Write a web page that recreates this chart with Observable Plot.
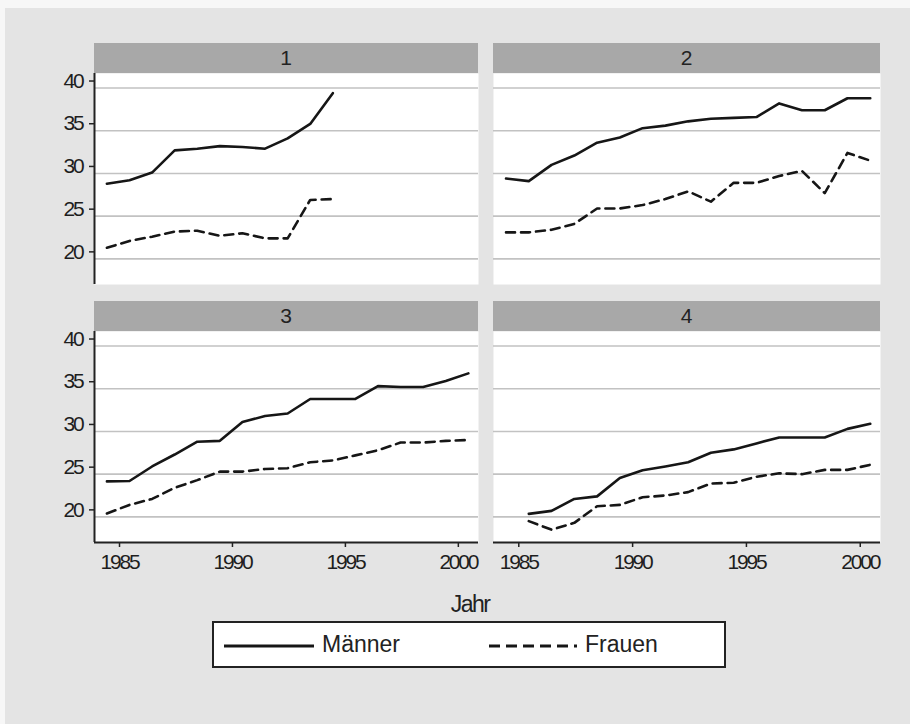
<!DOCTYPE html>
<html>
<head>
<meta charset="utf-8">
<script src="https://cdn.jsdelivr.net/npm/d3@7"></script>
<script src="https://cdn.jsdelivr.net/npm/@observablehq/plot@0.6"></script>
<style>
  html, body { margin: 0; padding: 0; background: #f7f7f7; width: 910px; height: 724px; overflow: hidden; }
  #bg { position: absolute; left: 5px; top: 8px; width: 905px; height: 716px; background: #e4e4e4; }
  .strip { position: absolute; background: #a8a8a8; color: #222; text-align: center;
           font: 21px "Liberation Sans", Arial, sans-serif; line-height: 30px; height: 30px; }
  .panel { position: absolute; }
  .panel svg { overflow: visible; }
  .panel svg text { letter-spacing: -2.2px; }
  #xlabel { position: absolute; left: 420px; width: 100px; top: 591px; text-align: center; letter-spacing: -1.5px;
            font: 23px "Liberation Sans", Arial, sans-serif; color: #222; }
  #legend { position: absolute; left: 212px; top: 621px; width: 510px; height: 43px;
            border: 2px solid #222; background: #fff; }
  #legend span { position: absolute; top: 8px; font: 23px "Liberation Sans", Arial, sans-serif; color: #222; }
  #legend svg { position: absolute; top: 0; }
</style>
</head>
<body>
<div id="bg"></div>
<div id="chart"></div>
<script>
// ---- data ----
const panelNames = ["1", "2", "3", "4"];
const seriesNames = ["Männer", "Frauen"];
const xTitle = "Jahr";
const yTicks = [20, 25, 30, 35, 40];
const xTicks = [1985, 1990, 1995, 2000];

const years1 = [1984, 1985, 1986, 1987, 1988, 1989, 1990, 1991, 1992, 1993, 1994];
const maenner1 = [28.8, 29.2, 30.1, 32.7, 32.9, 33.2, 33.1, 32.9, 34.1, 35.8, 39.4];
const frauen1  = [21.3, 22.1, 22.6, 23.2, 23.3, 22.7, 23.0, 22.4, 22.4, 26.9, 27.0];

const years2 = [1984, 1985, 1986, 1987, 1988, 1989, 1990, 1991, 1992, 1993, 1994, 1995, 1996, 1997, 1998, 1999, 2000];
const maenner2 = [29.4, 29.1, 31.0, 32.1, 33.6, 34.2, 35.3, 35.6, 36.1, 36.4, 36.5, 36.6, 38.2, 37.4, 37.4, 38.8, 38.8];
const frauen2  = [23.1, 23.1, 23.4, 24.1, 25.9, 25.9, 26.3, 27.0, 27.9, 26.7, 28.9, 28.9, 29.7, 30.3, 27.7, 32.4, 31.5];

const years3 = [1984, 1985, 1986, 1987, 1988, 1989, 1990, 1991, 1992, 1993, 1994, 1995, 1996, 1997, 1998, 1999, 2000];
const maenner3 = [24.15, 24.2, 25.9, 27.3, 28.8, 28.9, 31.1, 31.8, 32.1, 33.8, 33.8, 33.8, 35.3, 35.2, 35.2, 35.9, 36.8];
const frauen3  = [20.4, 21.4, 22.1, 23.4, 24.3, 25.3, 25.3, 25.6, 25.7, 26.4, 26.6, 27.2, 27.8, 28.7, 28.7, 28.9, 29.0];

const years4 = [1985, 1986, 1987, 1988, 1989, 1990, 1991, 1992, 1993, 1994, 1995, 1996, 1997, 1998, 1999, 2000];
const maenner4 = [20.35, 20.7, 22.1, 22.4, 24.55, 25.45, 25.9, 26.4, 27.5, 27.9, 28.6, 29.3, 29.3, 29.3, 30.3, 30.9];
const frauen4  = [19.5, 18.5, 19.3, 21.25, 21.4, 22.3, 22.5, 22.9, 23.9, 24.0, 24.7, 25.1, 25.0, 25.5, 25.5, 26.1];

// ---- layout ----
const xDomain = [1983.45, 2000.45];
const yDomain = [17.0, 41.7];
const plotH = 211;
const font = '"Liberation Sans", Arial, sans-serif';

const panels = [
  {name: panelNames[0], years: years1, m: maenner1, f: frauen1, left: 94, top: 73, w: 384, showY: true, showX: false},
  {name: panelNames[1], years: years2, m: maenner2, f: frauen2, left: 493, top: 73, w: 387, showY: false, showX: false},
  {name: panelNames[2], years: years3, m: maenner3, f: frauen3, left: 94, top: 331, w: 384, showY: true, showX: true},
  {name: panelNames[3], years: years4, m: maenner4, f: frauen4, left: 493, top: 331, w: 387, showY: false, showX: true}
];

const chart = document.getElementById("chart");

for (const p of panels) {
  const data = p.years.map((yr, i) => ({year: yr, m: p.m[i], f: p.f[i]}));
  const ML = p.showY ? 50 : 0;
  const MB = p.showX ? 45 : 0;

  const strip = document.createElement("div");
  strip.className = "strip";
  strip.style.left = p.left + "px";
  strip.style.top = (p.top - 30) + "px";
  strip.style.width = p.w + "px";
  strip.textContent = p.name;
  chart.appendChild(strip);

  const plot = Plot.plot({
    width: ML + p.w,
    height: plotH + MB,
    marginLeft: ML, marginRight: 0, marginTop: 0, marginBottom: MB,
    x: {domain: xDomain, axis: null},
    y: {domain: yDomain, axis: null},
    style: {background: "transparent", overflow: "visible", fontFamily: font, color: "#1e1e1e"},
    marks: [
      Plot.frame({fill: "white", stroke: null}),
      Plot.gridY(yTicks, {stroke: "#c2c2c2", strokeOpacity: 1, strokeWidth: 1.6}),
      Plot.lineY(data, {x: "year", y: "m", stroke: "#161616", strokeWidth: 2.6}),
      Plot.lineY(data, {x: "year", y: "f", stroke: "#161616", strokeWidth: 2.6, strokeDasharray: "9,6"}),
      p.showY ? Plot.ruleX([xDomain[0]], {stroke: "#222", strokeWidth: 2}) : null,
      p.showY ? Plot.axisY(yTicks, {label: null, tickSize: 5, tickPadding: 7, dy: -7, fontSize: 21, tickFormat: d => String(d), stroke: "#222", strokeWidth: 1.5}) : null,
      p.showX ? Plot.ruleY([yDomain[0]], {stroke: "#222", strokeWidth: 2}) : null,
      p.showX ? Plot.axisX(xTicks, {label: null, tickSize: 5, tickPadding: 7, dx: -10, fontSize: 21, tickFormat: d => String(d), stroke: "#222", strokeWidth: 1.5}) : null
    ]
  });
  const wrap = document.createElement("div");
  wrap.className = "panel";
  wrap.style.left = (p.left - ML) + "px";
  wrap.style.top = p.top + "px";
  wrap.appendChild(plot);
  chart.appendChild(wrap);
}

// x title
const xl = document.createElement("div");
xl.id = "xlabel";
xl.textContent = xTitle;
chart.appendChild(xl);

// legend
const lg = document.createElement("div");
lg.id = "legend";
lg.innerHTML =
  `<svg width="100" height="43" style="left:8px"><line x1="2" x2="92" y1="23" y2="23" stroke="#161616" stroke-width="3"/></svg>` +
  `<span style="left:108px">${seriesNames[0]}</span>` +
  `<svg width="100" height="43" style="left:273px"><line x1="2" x2="90" y1="23" y2="23" stroke="#161616" stroke-width="3" stroke-dasharray="11,6"/></svg>` +
  `<span style="left:371px">${seriesNames[1]}</span>`;
chart.appendChild(lg);
</script>
</body>
</html>
